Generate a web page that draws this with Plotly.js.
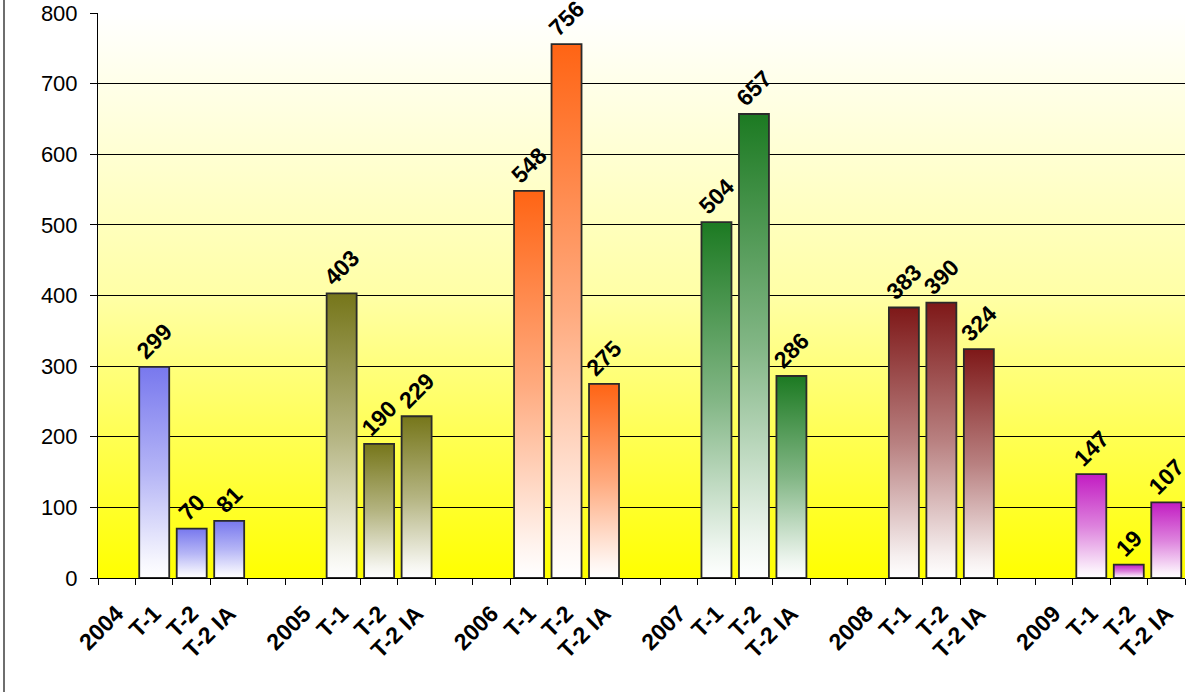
<!DOCTYPE html>
<html>
<head>
<meta charset="utf-8">
<script src="https://cdn.plot.ly/plotly-3.0.1.min.js"></script>
<style>
html,body{margin:0;padding:0;background:#fff;}
#wrap{position:relative;width:1189px;height:692px;overflow:hidden;}
#chart{position:absolute;left:0;top:0;width:1189px;height:692px;}
#edge{position:absolute;left:3px;top:0;width:2px;height:692px;background:#6e6e6e;}
</style>
</head>
<body>
<div id="wrap"><div id="chart"></div><div id="edge"></div></div>
<script>
// ---- data ----
const years = ["2004", "2005", "2006", "2007", "2008", "2009"];
const seriesLabels = ["T-1", "T-2", "T-2 IA"];
const valuesT1   = [299, 403, 548, 504, 383, 147];
const valuesT2   = [70, 190, 756, 657, 390, 19];
const valuesT2IA = [81, 229, 275, 286, 324, 107];

// ---- style ----
const yearColors = ["#7878ee", "#76761a", "#ff6414", "#1c7a22", "#7e1818", "#c21cc2"];
const slotsPerYear = 5;
const FONT = "Liberation Sans, Arial, sans-serif";

const traces = years.map((yr, i) => ({
  type: "bar",
  name: yr,
  x: seriesLabels.map((_, j) => i * slotsPerYear + 1 + j),
  y: [valuesT1[i], valuesT2[i], valuesT2IA[i]],
  text: [valuesT1[i], valuesT2[i], valuesT2IA[i]].map(String),
  textposition: "outside",
  textangle: -45,
  constraintext: "none",
  cliponaxis: false,
  textfont: {family: FONT, size: 23, color: "#000", weight: "bold"},
  width: 0.8,
  marker: {color: yearColors[i], line: {color: "#2a2a2a", width: 1.8}},
  hoverinfo: "x+y",
  showlegend: false
}));

const tickvals = [], ticktext = [];
years.forEach((yr, i) => {
  tickvals.push(i * slotsPerYear); ticktext.push(yr);
  seriesLabels.forEach((s, j) => { tickvals.push(i * slotsPerYear + 1 + j); ticktext.push(s); });
});
const nSlots = years.length * slotsPerYear - 1;

const bgSvg = '<svg xmlns="http://www.w3.org/2000/svg" width="100" height="100" preserveAspectRatio="none">' +
  '<defs><linearGradient id="g" x1="0" y1="0" x2="0" y2="1">' +
  '<stop offset="0" stop-color="#ffffff"/><stop offset="0.5" stop-color="#ffffa6"/><stop offset="1" stop-color="#ffff00"/>' +
  '</linearGradient></defs><rect width="100" height="100" fill="url(#g)"/></svg>';

const layout = {
  width: 1189, height: 692,
  margin: {l: 98, r: 4, t: 13, b: 114},
  paper_bgcolor: "rgba(0,0,0,0)",
  plot_bgcolor: "rgba(0,0,0,0)",
  bargap: 0,
  images: [{
    source: "data:image/svg+xml;charset=utf-8," + encodeURIComponent(bgSvg),
    xref: "paper", yref: "paper", x: 0, y: 1, sizex: 1, sizey: 1,
    sizing: "stretch", layer: "below", xanchor: "left", yanchor: "top"
  }],
  xaxis: {
    range: [-0.5, nSlots - 0.5],
    tickmode: "array", tickvals: tickvals, ticktext: ticktext,
    tickangle: -45, ticks: "",
    ticklabelstandoff: 12,
    tickfont: {family: FONT, size: 23, color: "#000", weight: "bold"},
    showgrid: false, zeroline: false,
    showline: true, linecolor: "#000", linewidth: 1,
    minor: {ticks: "outside", tickmode: "linear", tick0: -0.5, dtick: 1, ticklen: 6, tickcolor: "#000", tickwidth: 1, showgrid: false},
    fixedrange: true
  },
  yaxis: {
    range: [0, 800], dtick: 100, tick0: 0,
    ticks: "outside", ticklen: 7, tickcolor: "#000", tickwidth: 1,
    ticklabelstandoff: 8,
    tickfont: {family: FONT, size: 22, color: "#000"},
    showgrid: true, gridcolor: "#000", gridwidth: 1,
    zeroline: false, showline: true, linecolor: "#000", linewidth: 1,
    fixedrange: true
  },
  font: {family: FONT, color: "#000"}
};

function mixWhite(hex, t) {
  const n = parseInt(hex.slice(1), 16);
  const r = (n >> 16) & 255, g = (n >> 8) & 255, b = n & 255;
  const m = v => Math.round(v + (255 - v) * t);
  return "rgb(" + m(r) + "," + m(g) + "," + m(b) + ")";
}

Plotly.newPlot("chart", traces, layout, {displayModeBar: false, staticPlot: true}).then(gd => {
  const svg = gd.querySelector("svg.main-svg");
  const NS = "http://www.w3.org/2000/svg";
  let defs = svg.querySelector("defs");
  if (!defs) { defs = document.createElementNS(NS, "defs"); svg.insertBefore(defs, svg.firstChild); }
  yearColors.forEach((c, i) => {
    const lg = document.createElementNS(NS, "linearGradient");
    lg.setAttribute("id", "barGrad" + i);
    lg.setAttribute("x1", "0"); lg.setAttribute("y1", "0");
    lg.setAttribute("x2", "0"); lg.setAttribute("y2", "1");
    [[0, mixWhite(c, 0)], [0.5, mixWhite(c, 0.45)], [0.92, mixWhite(c, 0.93)], [1, "#ffffff"]].forEach(([o, col]) => {
      const st = document.createElementNS(NS, "stop");
      st.setAttribute("offset", o);
      st.setAttribute("stop-color", col);
      lg.appendChild(st);
    });
    defs.appendChild(lg);
  });
  const traceGroups = gd.querySelectorAll(".barlayer .trace.bars");
  traceGroups.forEach((g, i) => {
    g.querySelectorAll(".point path").forEach(p => { p.style.fill = "url(#barGrad" + i + ")"; });
  });
});
</script>
</body>
</html>
